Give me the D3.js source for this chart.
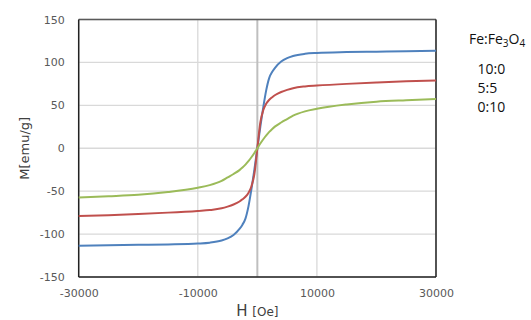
<!DOCTYPE html>
<html>
<head>
<meta charset="utf-8">
<script src="https://cdn.jsdelivr.net/npm/d3@7"></script>
<style>
  body { margin: 0; background: #fff; }
  svg { display: block; }
</style>
</head>
<body>
<svg id="chart" width="531" height="320"></svg>
<script>
// field values (Oe)
var fieldH = [-30000, -25000, -20000, -15000, -10000, -8000, -6000, -5000, -4000, -3000, -2500, -2000, -1500, -1000, -500, 0,
    500, 1000, 1500, 2000, 2500, 3000, 4000, 5000, 6000, 8000, 10000, 15000, 20000, 25000, 30000];

// magnetization (emu/g) for each mix
var m10to0 = [-113.5, -113, -112.5, -112, -111, -110, -107.5, -105, -101, -94, -89, -82, -68, -48, -25, 0,
    25, 48, 68, 82, 89, 94, 101, 105, 107.5, 110, 111, 112, 112.5, 113, 113.5];
var m5to5 = [-79, -78, -76.6, -75, -73, -72, -70, -68, -65.5, -62, -59.5, -56.5, -52, -44.5, -30, 0,
    30, 44.5, 52, 56.5, 59.5, 62, 65.5, 68, 70, 72, 73, 75, 76.6, 78, 79];
var m0to10 = [-57.4, -56, -54.3, -51, -46, -43, -38, -34, -30, -25.5, -22.5, -19, -15, -10.5, -5.5, 0,
    5.5, 10.5, 15, 19, 22.5, 25.5, 30, 34, 38, 43, 46, 51, 54.3, 56, 57.4];

var seriesNames = ["10:0", "5:5", "0:10"];
var seriesColors = ["#4f81bd", "#c0504d", "#9bbb59"];

var xTicks = [-30000, -10000, 10000, 30000];
var yTicks = [-150, -100, -50, 0, 50, 100, 150];

var svg = d3.select("#chart");
var margin = { top: 19.5, left: 78.7, right: 95, bottom: 43 };
var width = 531 - margin.left - margin.right,
    height = 320 - margin.top - margin.bottom;

var x = d3.scaleLinear().domain([-30000, 30000]).range([0, width]);
var y = d3.scaleLinear().domain([-150, 150]).range([height, 0]);

var g = svg.append("g")
    .attr("transform", "translate(" + margin.left + "," + margin.top + ")");

// gridlines
g.selectAll(".hgrid").data(yTicks).enter().append("line")
    .attr("x1", 0).attr("x2", width)
    .attr("y1", function (d) { return y(d); })
    .attr("y2", function (d) { return y(d); })
    .attr("stroke", "#d9d9d9").attr("stroke-width", 1.3);

g.selectAll(".vgrid").data(xTicks).enter().append("line")
    .attr("y1", 0).attr("y2", height)
    .attr("x1", function (d) { return x(d); })
    .attr("x2", function (d) { return x(d); })
    .attr("stroke", "#d9d9d9").attr("stroke-width", 1.3);

// vertical axis at H = 0
g.append("line")
    .attr("x1", x(0)).attr("x2", x(0))
    .attr("y1", 0).attr("y2", height)
    .attr("stroke", "#bfbfbf").attr("stroke-width", 2);

// frame
g.append("line").attr("x1", 0).attr("x2", width).attr("y1", 0).attr("y2", 0)
    .attr("stroke", "#595959").attr("stroke-width", 1.3);
g.append("line").attr("x1", 0).attr("x2", 0).attr("y1", 0).attr("y2", height)
    .attr("stroke", "#222").attr("stroke-width", 1.5);
g.append("line").attr("x1", width).attr("x2", width).attr("y1", 0).attr("y2", height)
    .attr("stroke", "#222").attr("stroke-width", 1.5);
g.append("line").attr("x1", 0).attr("x2", width).attr("y1", height).attr("y2", height)
    .attr("stroke", "#222").attr("stroke-width", 1.5);

// curves
var line = d3.line()
    .x(function (d) { return x(d[0]); })
    .y(function (d) { return y(d[1]); })
    .curve(d3.curveMonotoneX);

[m10to0, m5to5, m0to10].forEach(function (vals, i) {
    g.append("path")
        .datum(d3.zip(fieldH, vals))
        .attr("fill", "none")
        .attr("stroke", seriesColors[i])
        .attr("stroke-width", 2)
        .attr("d", line);
});

// axes labels (plain hyphen for negatives, like the original)
var yAxis = d3.axisLeft(y).tickValues(yTicks).tickSize(0).tickPadding(14)
    .tickFormat(function (d) { return String(d); });
var gy = g.append("g").call(yAxis);
gy.select(".domain").remove();
gy.selectAll("text").attr("font-family", "DejaVu Sans").attr("font-size", 11).attr("fill", "#595959");

var xAxis = d3.axisBottom(x).tickValues(xTicks).tickSize(0).tickPadding(12)
    .tickFormat(function (d) { return String(d); });
var gx = g.append("g").attr("transform", "translate(0," + height + ")").call(xAxis);
gx.select(".domain").remove();
gx.selectAll("text").attr("font-family", "DejaVu Sans").attr("font-size", 11).attr("fill", "#595959");

// axis titles
var xt = svg.append("text")
    .attr("x", margin.left + x(0)).attr("y", 316)
    .attr("text-anchor", "middle")
    .attr("font-family", "DejaVu Sans").attr("fill", "#404040");
xt.append("tspan").attr("font-size", 15).text("H ");
xt.append("tspan").attr("font-size", 12).text("[Oe]");

svg.append("text")
    .attr("transform", "translate(29," + (margin.top + y(0)) + ") rotate(-90)")
    .attr("text-anchor", "middle")
    .attr("font-family", "DejaVu Sans").attr("font-size", 13).attr("fill", "#404040")
    .text("M[emu/g]");

// legend text
var lg = svg.append("text")
    .attr("x", 469).attr("y", 44)
    .attr("font-family", "Open Sans").attr("font-size", 14).attr("fill", "#111");
lg.append("tspan").text("Fe:Fe");
lg.append("tspan").attr("font-size", 10).attr("dy", 3).text("3");
lg.append("tspan").attr("dy", -3).text("O");
lg.append("tspan").attr("font-size", 10).attr("dy", 3).text("4");

svg.selectAll(".leg").data(seriesNames).enter().append("text")
    .attr("x", 477.5)
    .attr("y", function (d, i) { return 74 + i * 19; })
    .attr("font-family", "Open Sans").attr("font-size", 14).attr("fill", "#111")
    .text(function (d) { return d; });
</script>
</body>
</html>
